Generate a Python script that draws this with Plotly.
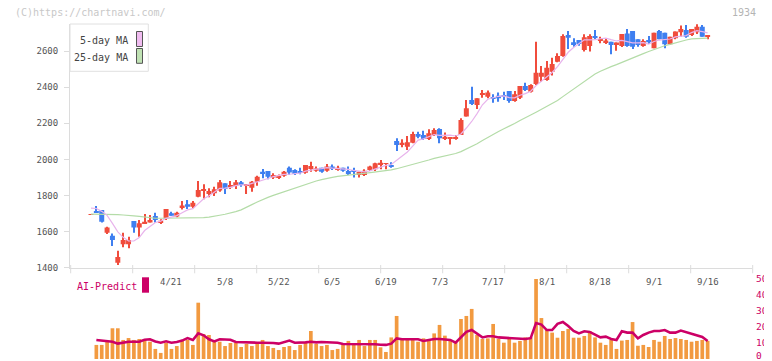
import plotly.graph_objects as go

# ---------------- data ----------------
# trading days 2025-03-31 .. 2025-09-16, index 0..115
opens = [1692,1712,1720,1594,1577,1428,1530,1530,1659,1622,1646,1650,1686,1650,1673,1701,1683,1735,1751,1738,
         1793,1827,1808,1812,1827,1868,1845,1853,1873,1854,1843,1876,1932,1936,1899,1901,1910,1954,1941,1936,
         1926,1947,1937,1954,1937,1960,1941,1954,1936,1936,1913,1913,1941,1945,1973,1975,1969,2102,2085,2070,
         2092,2141,2135,2113,2135,2168,2113,2113,2118,2135,2237,2329,2301,2362,2347,2342,2353,2357,2379,2323,
         2342,2407,2375,2418,2458,2440,2486,2541,2573,2689,2649,2661,2606,2628,2684,2658,2649,2652,2634,2628,
         2698,2711,2665,2628,2661,2615,2711,2702,2638,2671,2704,2717,2689,2704,2735,2680]
highs = [1694,1742,1720,1627,1590,1494,1594,1572,1659,1664,1697,1692,1705,1668,1725,1710,1710,1770,1775,1770,
         1880,1862,1840,1849,1886,1868,1880,1886,1880,1864,1880,1910,1947,1936,1923,1916,1936,1960,1945,1954,
         1969,1987,1960,1954,1974,1972,1965,1954,1960,1954,1932,1945,1965,1982,1996,1978,1984,2117,2111,2130,
         2153,2153,2159,2167,2172,2172,2149,2120,2135,2228,2329,2403,2338,2384,2381,2361,2370,2375,2379,2379,
         2407,2425,2416,2652,2518,2545,2563,2588,2693,2711,2671,2661,2693,2693,2717,2680,2671,2652,2647,2694,
         2722,2711,2665,2665,2684,2702,2717,2702,2680,2708,2741,2745,2722,2749,2745,2689]
lows = [1692,1705,1650,1587,1520,1415,1513,1508,1594,1572,1646,1650,1650,1642,1664,1688,1679,1723,1725,1730,
        1790,1779,1790,1797,1821,1808,1836,1836,1849,1808,1821,1854,1896,1890,1891,1891,1904,1914,1914,1917,
        1921,1932,1932,1926,1932,1941,1937,1932,1914,1900,1899,1908,1936,1936,1945,1945,1954,2047,2067,2052,
        2089,2117,2107,2107,2130,2089,2107,2083,2109,2135,2237,2301,2279,2342,2338,2314,2319,2329,2314,2319,
        2334,2379,2370,2412,2430,2436,2465,2538,2569,2612,2624,2629,2597,2597,2665,2643,2639,2582,2602,2623,
        2624,2612,2624,2624,2639,2615,2665,2615,2634,2665,2680,2674,2684,2695,2680,2665]
closes = [1694,1705,1655,1622,1553,1459,1553,1553,1622,1646,1655,1664,1664,1660,1725,1688,1705,1744,1738,1760,
          1830,1836,1825,1834,1873,1836,1858,1873,1858,1864,1876,1904,1923,1904,1914,1910,1932,1928,1919,1928,
          1969,1963,1950,1932,1960,1951,1954,1937,1919,1932,1932,1937,1960,1978,1982,1978,1960,2080,2092,2095,
          2141,2126,2113,2145,2163,2117,2126,2120,2122,2218,2283,2307,2338,2367,2370,2335,2338,2347,2323,2361,
          2407,2384,2412,2480,2480,2508,2528,2573,2684,2674,2639,2639,2677,2684,2676,2665,2658,2634,2647,2694,
          2628,2624,2634,2656,2649,2702,2665,2638,2680,2708,2722,2680,2722,2735,2680,2689]

# moving-average values before a full window exists
ma5_head = [1730, 1728, 1712, 1690]
ma25_head = [1697,1697,1697,1696,1695,1694,1692,1691,1687,1684,1680,1676,1674,1674,1674,1674,
             1674,1674,1674,1674,1675,1677,1680,1684]

volume = [0, 8.8, 8.8, 11.5, 19.2, 19.2, 11.9, 13.1, 11.9, 12.5, 12.5, 10.8, 6.3, 3.8, 10.0, 6.3, 8.1, 11.5, 11.9, 8.8,
          35.2, 15.6, 15.0, 11.9, 10.8, 8.1, 10.0, 10.0, 7.5, 9.4, 8.1, 9.4, 11.9, 8.1, 6.9, 5.6, 7.5, 8.1, 5.6, 8.8,
          10.6, 17.5, 9.4, 8.1, 8.8, 5.6, 6.3, 9.4, 11.3, 9.8, 11.9, 8.1, 11.9, 11.9, 7.3, 4.4, 13.5, 26.9, 12.9, 11.9,
          12.9, 10.8, 12.9, 11.9, 16.0, 21.3, 14.6, 11.9, 10.8, 25.0, 26.9, 31.3, 15.0, 12.5, 12.9, 21.9, 12.5, 10.2, 12.5, 10.2,
          11.3, 13.5, 13.5, 50.0, 25.6, 18.1, 16.5, 13.3, 17.5, 18.8, 13.3, 13.3, 14.4, 17.5, 13.5, 10.2, 8.8, 11.9, 6.3, 11.5,
          11.9, 23.1, 8.3, 8.8, 7.5, 11.9, 10.8, 14.4, 12.5, 13.1, 12.5, 11.9, 10.8, 11.3, 11.9, 11.3]

ai_predict = [11.9, 11.5, 11.3, 10.8, 9.6, 10.4, 10.8, 10.8, 10.8, 12.0, 12.3, 11.0, 10.2, 11.1, 10.2, 10.6, 11.5, 13.1, 11.9,
              16.0, 14.8, 12.3, 11.0, 12.3, 12.3, 12.0, 10.6, 10.4, 10.4, 10.4, 10.2, 10.2, 10.2, 10.0, 9.6, 10.4, 11.5, 10.2, 10.2,
              10.4, 10.8, 10.4, 10.6, 10.4, 10.4, 10.2, 9.4, 9.4, 9.4, 9.4, 9.4, 9.4, 9.2, 8.9, 8.8, 9.6, 12.9, 12.3, 12.3,
              12.5, 12.3, 11.3, 12.0, 12.5, 12.5, 12.3, 11.9, 10.2, 13.5, 17.0, 18.1, 16.0, 13.5, 14.2, 14.2, 13.5, 13.3, 12.7,
              12.5, 12.5, 12.5, 13.0, 22.5, 21.5, 18.1, 18.1, 22.0, 23.1, 20.6, 17.5, 16.0, 17.3, 16.9, 15.2, 13.5, 14.0, 12.5,
              11.9, 17.3, 16.5, 16.5, 12.9, 15.0, 16.5, 17.5, 17.5, 18.1, 16.5, 16.5, 17.8, 16.9, 15.8, 14.8, 13.8, 11.3]

date_labels = ["4/21", "5/8", "5/22", "6/5", "6/19", "7/3", "7/17", "8/1", "8/18", "9/1", "9/16"]
date_label_idx = [15, 25, 35, 45, 55, 65, 75, 85, 95, 105, 115]
price_ticks = [1400, 1600, 1800, 2000, 2200, 2400, 2600]
vol_ticks = [0, 10, 20, 30, 40, 50]

# ---------------- derived ----------------
n = len(closes)
idx = list(range(n))
ma5 = ma5_head + [sum(closes[i-4:i+1]) / 5 for i in range(4, n)]
ma25 = ma25_head + [sum(closes[i-24:i+1]) / 25 for i in range(24, n)]

RED = "#f04c3c"
BLUE = "#3f7ff0"
cols = [RED if c >= o else BLUE for o, c in zip(opens, closes)]
body_base = [min(o, c) for o, c in zip(opens, closes)]
body_h = [max(abs(c - o), 4) for o, c in zip(opens, closes)]
wick_h = [max(h - l, 4) for h, l in zip(highs, lows)]

# The page puts the figure 8px in from the top-left corner of the window.
OFF = 8
W, H = 772 - OFF, 361 - OFF
# plot area in window pixels: x 70..752, y 24..359
ML, MT = 70 - OFF, 24 - OFF
MR = W - (752 - OFF)
MB = H - (359 - OFF)
PW, PH = 682, 335


def px_x(p):
    # window-pixel x -> paper fraction
    return (p - 70) / PW


def px_y(p):
    # window-pixel y -> paper fraction
    return (359 - p) / PH


FONT = "DejaVu Sans Mono"

fig = go.Figure()

# MA lines
fig.add_trace(go.Scatter(x=idx, y=ma25, mode="lines", line=dict(color="#b4dca8", width=1.2),
                         xaxis="x", yaxis="y", hoverinfo="skip"))
fig.add_trace(go.Scatter(x=idx, y=ma5, mode="lines", line=dict(color="#e8b4ec", width=1.2),
                         xaxis="x", yaxis="y", hoverinfo="skip"))
# wicks
fig.add_trace(go.Bar(x=idx, y=wick_h, base=lows, width=0.2, marker=dict(color=cols, line=dict(width=0)),
                     xaxis="x", yaxis="y"))
# bodies
fig.add_trace(go.Bar(x=idx, y=body_h, base=body_base, width=0.93, marker=dict(color=cols, line=dict(width=0)),
                     xaxis="x", yaxis="y"))
# volume
fig.add_trace(go.Bar(x=idx, y=volume, width=0.69, marker=dict(color="#f29a40", line=dict(width=0)),
                     xaxis="x2", yaxis="y2"))
# AI predict line
fig.add_trace(go.Scatter(x=idx[1:], y=ai_predict, mode="lines", line=dict(color="#cc0066", width=2.6),
                         xaxis="x2", yaxis="y2"))

xr = [(70 - 91) / 5.362, (752 - 91) / 5.362]
price_bottom = px_y(267.7)
vol_top = px_y(279)

fig.update_layout(
    width=W, height=H, margin=dict(l=ML, r=MR, t=MT, b=MB, autoexpand=False),
    paper_bgcolor="white", plot_bgcolor="white", showlegend=False, barmode="overlay",
    xaxis=dict(domain=[0, 1], range=xr, showline=True, linecolor="#dcdcdc", linewidth=1, automargin=False,
               showgrid=False, zeroline=False, showticklabels=False, ticks="", anchor="y"),
    yaxis=dict(domain=[price_bottom, 1], range=[1400, 2750], tickvals=price_ticks, automargin=False,
               ticks="outside", ticklen=5, tickcolor="#dcdcdc", showline=True, linecolor="#dcdcdc",
               ticklabelstandoff=4,
               showgrid=False, zeroline=False, tickfont=dict(family=FONT, size=9, color="#555555")),
    xaxis2=dict(domain=[0, 1], range=xr, visible=False, anchor="y2", matches="x", automargin=False),
    yaxis2=dict(domain=[0, vol_top], range=[0, 50], side="right", anchor="x2", automargin=False,
                showticklabels=False, showline=False, showgrid=False, zeroline=False, ticks=""),
)

shapes = []
# x-axis tick marks (evenly spaced)
for k in range(12):
    xp = px_x(70.7 + 62 * k)
    shapes.append(dict(type="line", xref="paper", yref="paper", x0=xp, x1=xp,
                       y0=px_y(273.3), y1=px_y(265), line=dict(color="#dcdcdc", width=1)))
# legend box
shapes.append(dict(type="rect", xref="paper", yref="paper", x0=px_x(70), x1=px_x(148.3),
                   y0=px_y(71.3), y1=px_y(24), line=dict(color="#e0e0e0", width=1), fillcolor="white"))
shapes.append(dict(type="rect", xref="paper", yref="paper", x0=px_x(136.5), x1=px_x(142.5),
                   y0=px_y(46.5), y1=px_y(31.5), line=dict(color="#555555", width=1), fillcolor="#f0bcf0"))
shapes.append(dict(type="rect", xref="paper", yref="paper", x0=px_x(136.5), x1=px_x(142.5),
                   y0=px_y(63.3), y1=px_y(48.5), line=dict(color="#555555", width=1), fillcolor="#c0e2b4"))
# AI-Predict marker
shapes.append(dict(type="rect", xref="paper", yref="paper", x0=px_x(142), x1=px_x(149),
                   y0=px_y(292.7), y1=px_y(277.3), line=dict(width=0), fillcolor="#cc0066"))
fig.update_layout(shapes=shapes)

ann = []
ann.append(dict(text="(C)https://chartnavi.com/", xref="paper", yref="paper", x=px_x(13), y=px_y(12),
                xanchor="left", yanchor="middle", showarrow=False,
                font=dict(family=FONT, size=10, color="#c8c8c8")))
ann.append(dict(text="1934", xref="paper", yref="paper", x=px_x(758), y=px_y(12),
                xanchor="right", yanchor="middle", showarrow=False,
                font=dict(family=FONT, size=10, color="#b4b4b4")))
ann.append(dict(text="5-day MA", xref="paper", yref="paper", x=px_x(130), y=px_y(40),
                xanchor="right", yanchor="middle", showarrow=False,
                font=dict(family=FONT, size=10, color="#444444")))
ann.append(dict(text="25-day MA", xref="paper", yref="paper", x=px_x(130), y=px_y(57),
                xanchor="right", yanchor="middle", showarrow=False,
                font=dict(family=FONT, size=10, color="#444444")))
ann.append(dict(text="AI-Predict", xref="paper", yref="paper", x=px_x(75), y=px_y(286),
                xanchor="left", yanchor="middle", showarrow=False,
                font=dict(family=FONT, size=10, color="#cc0066")))
for lab, i in zip(date_labels, date_label_idx):
    ann.append(dict(text=lab, xref="x", yref="paper", x=i, y=px_y(282.3),
                    xanchor="center", yanchor="middle", showarrow=False,
                    font=dict(family=FONT, size=9, color="#555555")))
# right-hand scale of the lower panel
for v in vol_ticks:
    ann.append(dict(text=str(v), xref="paper", yref="y2", x=px_x(754), y=v, yshift=3.5 if v == 0 else 0.7,
                    xanchor="left", yanchor="middle", showarrow=False,
                    font=dict(family=FONT, size=9.5, color="#cc0066")))
fig.update_layout(annotations=ann)

fig.write_html("out.html")
